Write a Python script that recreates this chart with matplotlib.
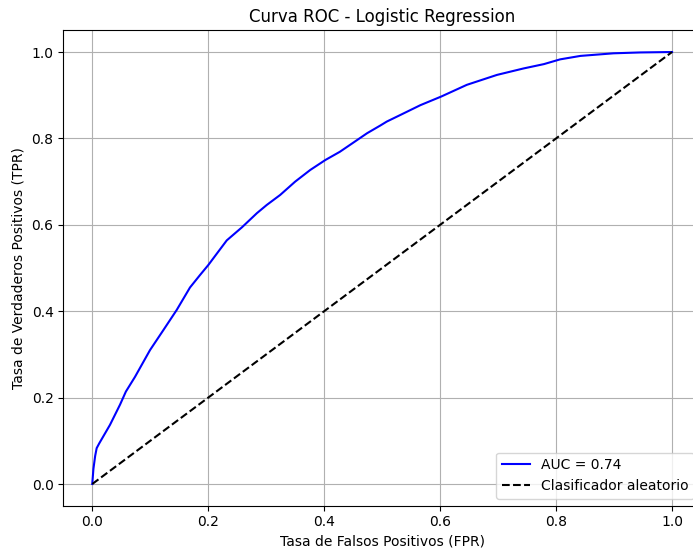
import matplotlib
matplotlib.use("Agg")
import matplotlib.pyplot as plt

# ROC curve points
fpr = [0.0, 0.002, 0.005, 0.0076, 0.012, 0.0306, 0.048, 0.058, 0.0737,
       0.0996, 0.1225, 0.1457, 0.1686, 0.186, 0.2002, 0.213, 0.232,
       0.258, 0.284, 0.301, 0.324, 0.350, 0.376, 0.402, 0.427, 0.450, 0.474,
       0.497, 0.508, 0.531, 0.566, 0.602, 0.646, 0.698, 0.744, 0.779, 0.807,
       0.842, 0.899, 0.945, 1.0]
tpr = [0.0, 0.035, 0.065, 0.083, 0.094, 0.137, 0.184, 0.214, 0.248,
       0.310, 0.356, 0.403, 0.455, 0.484, 0.507, 0.530, 0.564,
       0.594, 0.627, 0.646, 0.669, 0.700, 0.727, 0.750, 0.769, 0.790, 0.812,
       0.830, 0.839, 0.854, 0.877, 0.897, 0.924, 0.947, 0.962, 0.972, 0.983,
       0.991, 0.997, 0.999, 1.0]
auc = 0.74

fig = plt.figure(figsize=(6.93, 5.53), dpi=100)
ax = fig.add_axes([0.0913, 0.0857, 0.9203, 0.8593])

ax.plot(fpr, tpr, color='blue', label=f'AUC = {auc:.2f}')
ax.plot([0, 1], [0, 1], 'k--', label='Clasificador aleatorio')

ax.set_xlabel('Tasa de Falsos Positivos (FPR)')
ax.set_ylabel('Tasa de Verdaderos Positivos (TPR)')
ax.set_title('Curva ROC - Logistic Regression')
ax.legend(loc='lower right')
ax.grid(True)

fig.savefig('out.png', dpi=100)
